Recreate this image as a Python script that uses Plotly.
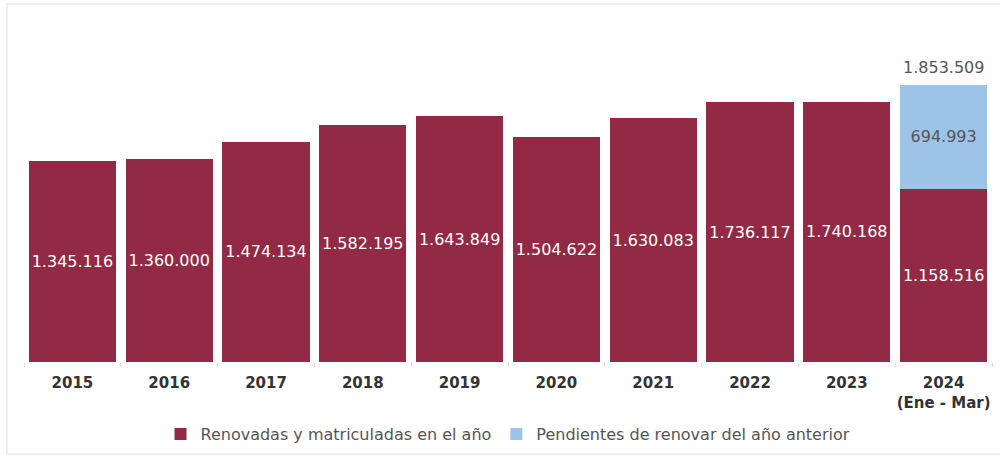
import plotly.graph_objects as go

categories = ["2015", "2016", "2017", "2018", "2019", "2020", "2021", "2022", "2023", "2024<br>(Ene - Mar)"]
renovadas = [1345116, 1360000, 1474134, 1582195, 1643849, 1504622, 1630083, 1736117, 1740168, 1158516]
pendientes = [None, None, None, None, None, None, None, None, None, 694993]
series_names = ["Renovadas y matriculadas en el año", "Pendientes de renovar del año anterior"]

total_2024 = renovadas[-1] + pendientes[-1]

fig = go.Figure()
fig.add_trace(go.Bar(
    x=categories, y=renovadas, name=series_names[0],
    marker=dict(color="#922A45", line=dict(width=0)),
    texttemplate="%{y:,}", textposition="inside", insidetextanchor="middle",
    textangle=0, textfont=dict(family="DejaVu Sans", size=16, color="white"),
))
fig.add_trace(go.Bar(
    x=categories, y=pendientes, name=series_names[1],
    marker=dict(color="#9DC3E6", line=dict(width=0)),
    texttemplate="%{y:,}", textposition="inside", insidetextanchor="middle",
    textangle=0, textfont=dict(family="DejaVu Sans", size=16, color="#555555"),
))

l, r, t, b = 24, 8, 33, 93
W, H = 1000, 455
pw, ph = W - l - r, H - t - b

fig.update_layout(
    width=W, height=H,
    margin=dict(l=l, r=r, t=t, b=b, autoexpand=False),
    barmode="stack", bargap=0.1,
    separators=",.",
    plot_bgcolor="white", paper_bgcolor="white",
    uniformtext=dict(minsize=16, mode="show"),
    font=dict(family="DejaVu Sans", color="#555555"),
    xaxis=dict(
        showgrid=False, showline=False, zeroline=False,
        ticks="outside", tickson="boundaries", ticklen=4, tickcolor="#d8d8d8",
        ticklabelstandoff=10, tickangle=0, automargin=False,
        tickfont=dict(family="DejaVu Sans", size=15, color="#333333", weight="bold"),
    ),
    yaxis=dict(visible=False, range=[0, 2200000], showgrid=False, zeroline=False),
    legend=dict(
        orientation="h", x=0.5, xanchor="center", y=(362 - 434) / ph, yanchor="middle",
        traceorder="normal",
        font=dict(family="DejaVu Sans", size=16, color="#555555"),
        itemclick=False,
    ),
    annotations=[dict(
        x=categories[-1], y=total_2024, xref="x", yref="y",
        text=f"{total_2024:,}".replace(",", "."), showarrow=False,
        yanchor="bottom", yshift=6,
        font=dict(family="DejaVu Sans", size=16, color="#555555"),
    )],
    shapes=[dict(
        type="rect", xref="paper", yref="paper",
        x0=(7 - l) / pw, x1=(1010 - l) / pw,
        y0=(H - b - 454) / ph, y1=(H - b - 4) / ph,
        line=dict(color="#eeeeee", width=2), fillcolor="rgba(0,0,0,0)", layer="below",
    )],
)

fig.write_html("out.html")
